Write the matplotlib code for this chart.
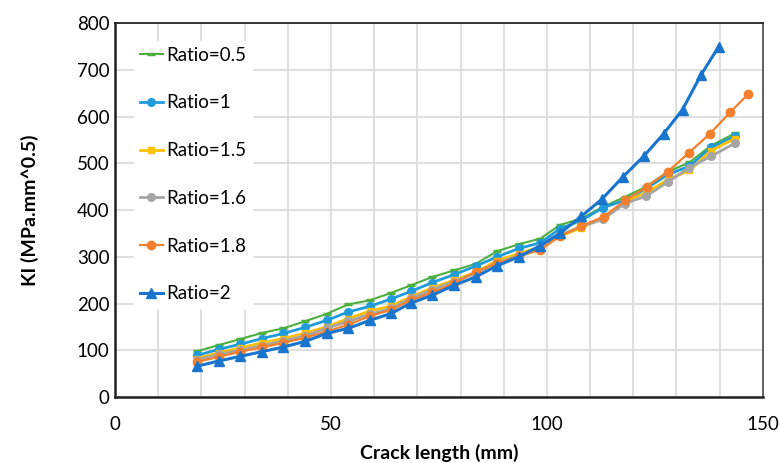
import matplotlib
matplotlib.use("Agg")
import matplotlib.pyplot as plt
from matplotlib.ticker import MultipleLocator

plt.rcParams['font.family'] = ['Lato', 'DejaVu Sans']

# crack length (mm) - shared by most series
x_common = [19, 24, 29, 34, 39, 44, 49, 54, 59, 64, 68.5, 73.5, 78.5, 83.5, 88.5,
            93.5, 98.5, 103, 108, 113, 118, 123, 128, 133, 138, 143.5]
x_r18 = x_common[:17] + [103, 108, 113.2, 118.2, 123.1, 128, 132.9, 137.7, 142.4, 146.6]
x_r2 = x_common[:17] + [103, 108, 112.7, 117.6, 122.4, 127, 131.4, 135.6, 139.8]

# KI values (MPa.mm^0.5)
ki_r05 = [98, 111, 124, 137, 147, 162, 178, 198, 207, 223, 239, 257, 271, 285, 312,
          327, 339, 368, 382, 407, 428, 450, 482, 502, 538, 564]
ki_r1 = [89, 102, 113, 125, 136, 149, 164, 182, 194, 210, 226, 245, 262, 280, 300,
         318, 330, 360, 378, 405, 421, 446, 476, 494, 534, 558]
ki_r15 = [82, 95, 105, 116, 125, 137, 150, 168, 184, 195, 214, 234, 250, 267, 292,
          307, 321, 344, 362, 384, 418, 437, 465, 485, 527, 553]
ki_r16 = [79, 91, 100, 110, 120, 131, 147, 162, 177, 190, 211, 230, 247, 265, 287,
          303, 318, 346, 365, 380, 414, 430, 460, 491, 515, 543]
ki_r18 = [75, 86, 97, 106, 116, 127, 140, 155, 173, 187, 207, 224, 243, 268, 286,
          301, 315, 344, 366, 386, 421, 450, 482, 523, 563, 609, 648]
ki_r2 = [66, 77, 87, 97, 107, 119, 136, 147, 164, 179, 201, 218, 239, 257, 281,
         300, 324, 350, 387, 423, 471, 515, 563, 615, 688, 750]

fig = plt.figure(figsize=(7.8, 4.63), dpi=100)
ax = fig.add_axes([0.1474, 0.1425, 0.8306, 0.8075])

ax.plot(x_common, ki_r05, color='#4CAF3F', lw=1.5, marker='_', ms=6, mew=2.5, label='Ratio=0.5')
ax.plot(x_common, ki_r1, color='#1F9BDC', lw=2, marker='o', ms=5.5, label='Ratio=1')
ax.plot(x_common, ki_r15, color='#FFC000', lw=2, marker='s', ms=5, label='Ratio=1.5')
ax.plot(x_common, ki_r16, color='#A5A5A5', lw=2, marker='o', ms=5.5, label='Ratio=1.6')
ax.plot(x_r18, ki_r18, color='#F47F2C', lw=1.6, marker='o', ms=6, label='Ratio=1.8')
ax.plot(x_r2, ki_r2, color='#1874CD', lw=2.2, marker='^', ms=7, label='Ratio=2')

ax.set_xlim(0, 150)
ax.set_ylim(0, 800)
ax.xaxis.set_major_locator(MultipleLocator(50))
ax.xaxis.set_minor_locator(MultipleLocator(10))
ax.yaxis.set_major_locator(MultipleLocator(100))
ax.grid(True, which='both', color='#DCDCDC', lw=1.3)
ax.set_axisbelow(True)
ax.tick_params(which='both', length=0, labelsize=13.5)
ax.tick_params(axis='x', pad=14)
ax.tick_params(axis='y', pad=4)

for s in ax.spines.values():
    s.set_color('#222222')
    s.set_linewidth(1.3)
ax.spines['left'].set_linewidth(1.8)
ax.spines['bottom'].set_linewidth(1.8)
ax.spines['right'].set_color('#555555')

ax.set_xlabel('Crack length (mm)', fontsize=14, fontweight='bold')
ax.set_ylabel('KI (MPa.mm^0.5)', fontsize=14, fontweight='bold')
ax.xaxis.set_label_coords(0.5, -0.126)
ax.yaxis.set_label_coords(-0.118, 0.5)

leg = ax.legend(loc='upper left', bbox_to_anchor=(0.015, 0.977), frameon=True,
                fontsize=13.5, labelspacing=1.64, handlelength=1.25, handletextpad=0.15,
                borderpad=0.3, fancybox=False)
leg.get_frame().set_edgecolor('white')
leg.get_frame().set_facecolor('white')
leg.get_frame().set_alpha(1)

fig.savefig('out.png', dpi=100)
